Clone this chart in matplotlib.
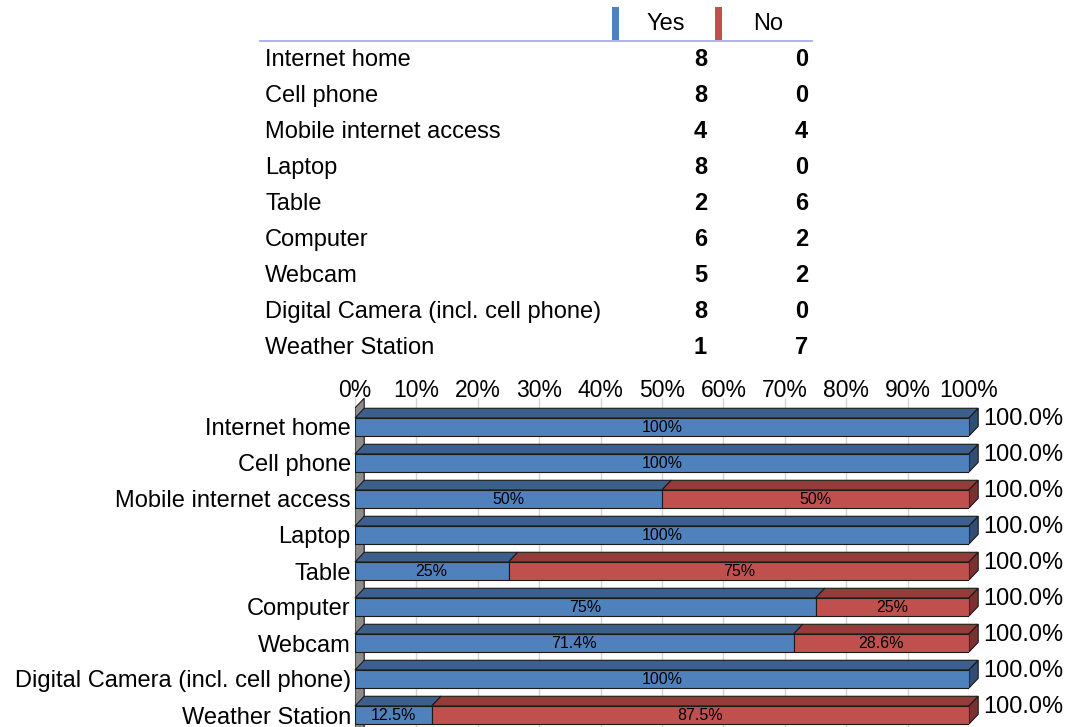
"""Yes/No survey chart: count table on top, 3D-style 100% stacked bars below."""

import matplotlib
matplotlib.use("Agg")
import matplotlib.pyplot as plt
from matplotlib.patches import Polygon, Rectangle

plt.rcParams["font.family"] = ["Liberation Sans", "DejaVu Sans"]

categories = [
    "Internet home",
    "Cell phone",
    "Mobile internet access",
    "Laptop",
    "Table",
    "Computer",
    "Webcam",
    "Digital Camera (incl. cell phone)",
    "Weather Station",
]
yes_counts = [8, 8, 4, 8, 2, 6, 5, 8, 1]
no_counts = [0, 0, 4, 0, 6, 2, 2, 0, 7]
series_names = ["Yes", "No"]
x_ticks = [0, 10, 20, 30, 40, 50, 60, 70, 80, 90, 100]

BLUE = ("#4f81bd", "#3c5f8c", "#2f4d75")   # front, top, side
RED = ("#c0504d", "#943c3a", "#7a3230")
EDGE = "#1a1a1a"
DX, DY = 1.5, 0.27   # depth offset (x in %, y in rows)
H = 0.5              # front face height in rows
FS = 17


def pct_label(v):
    return f"{v:.0f}%" if abs(v - round(v)) < 1e-9 else f"{v:.1f}%"


W, Hpx = 1070, 727
fig = plt.figure(figsize=(W / 100, Hpx / 100), dpi=100)

# ---- top table (pixel coordinates) ----
tab = fig.add_axes([0, 0, 1, 1])
tab.set_xlim(0, W)
tab.set_ylim(Hpx, 0)
tab.axis("off")
tab.plot([260, 812], [41, 41], color="#a3a3ea", lw=1.2)
for x0, x_txt, name, col in [(612, 666, series_names[0], BLUE[0]),
                             (715, 768, series_names[1], RED[0])]:
    tab.add_patch(Rectangle((x0, 7), 7, 33, color=col, lw=0))
    tab.text(x_txt, 30, name, ha="center", va="baseline", fontsize=FS)
for i, (cat, y, n) in enumerate(zip(categories, yes_counts, no_counts)):
    yy = 66 + 36 * i
    tab.text(265, yy, cat, ha="left", va="baseline", fontsize=FS)
    tab.text(707, yy, str(y), ha="right", va="baseline", fontsize=FS, fontweight="bold")
    tab.text(808, yy, str(n), ha="right", va="baseline", fontsize=FS, fontweight="bold")

# ---- bar chart ----
top_px, left_px, right_px = 398, 355, 969
row0_px, row_px = 427, 36
ax = fig.add_axes([left_px / W, 0, (right_px - left_px) / W, (Hpx - top_px) / Hpx])
ax.patch.set_visible(False)
ax.set_xlim(0, 100)
y_top = (top_px - row0_px) / row_px
ax.set_ylim(y_top + (Hpx - top_px) / row_px, y_top)
for s in ax.spines.values():
    s.set_visible(False)
ax.xaxis.tick_top()
ax.set_xticks(x_ticks)
ax.set_xticklabels([f"{t}%" for t in x_ticks], fontsize=16.5)
ax.tick_params(axis="x", length=0, pad=-3)
ax.set_yticks(range(len(categories)))
ax.set_yticklabels(categories, fontsize=FS)
ax.tick_params(axis="y", length=0, pad=3)
for t in x_ticks:
    ax.axvline(t, color="#d4d4d4", lw=1, zorder=0)

# left wall
wall_top = -0.53
ax.add_patch(Polygon([(0, wall_top), (DX, wall_top - DY), (DX, 20), (0, 20)],
                     closed=True, facecolor="#8c8c8c", edgecolor=EDGE, lw=0.8,
                     zorder=1, clip_on=True))

for i, (y, n) in enumerate(zip(yes_counts, no_counts)):
    total = y + n
    vals = [100 * y / total, 100 * n / total]
    left = 0.0
    top = i - H / 2
    for v, cols in zip(vals, [BLUE, RED]):
        if v <= 0:
            continue
        ax.barh(i, v, left=left, height=H, color=cols[0], edgecolor=EDGE,
                lw=0.8, zorder=3)
        ax.add_patch(Polygon([(left, top), (left + v, top), (left + v + DX, top - DY),
                              (left + DX, top - DY)], closed=True,
                             facecolor=cols[1], edgecolor=EDGE, lw=0.8, zorder=2,
                             clip_on=False))
        ax.text(left + v / 2, i + 0.02, pct_label(v), ha="center", va="center",
                fontsize=11.5, zorder=4)
        left += v
        last_cols = cols
    ax.add_patch(Polygon([(left, top), (left + DX, top - DY), (left + DX, top + H - DY),
                          (left, top + H)], closed=True, facecolor=last_cols[2],
                         edgecolor=EDGE, lw=0.8, zorder=2, clip_on=False))
    ax.annotate(f"{sum(vals):.1f}%", xy=(left + DX, i - 0.22), xytext=(3.5, 0),
                textcoords="offset points", ha="left", va="center", fontsize=FS,
                annotation_clip=False)

fig.savefig("out.png", dpi=100)
